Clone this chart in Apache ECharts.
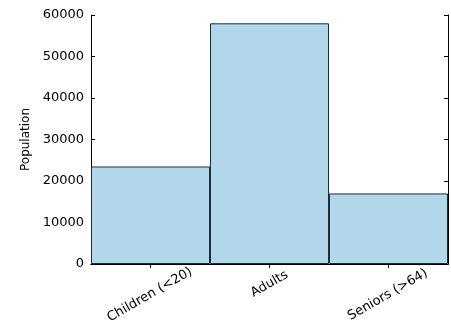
<!DOCTYPE html>
<html>
<head>
<meta charset="utf-8">
<script src="https://cdn.jsdelivr.net/npm/echarts@6/dist/echarts.min.js"></script>
<style>
  html, body { margin: 0; padding: 0; background: #fff; }
  #chart { width: 451px; height: 327px; }
</style>
</head>
<body>
<div id="chart"></div>
<script>
// Population by age group
const categories = ['Children (<20)', 'Adults', 'Seniors (>64)'];
const population = [23500, 58000, 17000];
const yTicks = [0, 10000, 20000, 30000, 40000, 50000, 60000];

const FONT = 'DejaVu Sans';
const frame = { show: true, lineStyle: { color: '#000', width: 1 } };
const inTicks = { show: true, inside: true, length: 4, lineStyle: { color: '#000' } };

// Longer labels get extra padding so each rotated label stays centred under its bar
const longLabels = ['Children (<20)', 'Seniors (>64)'];

const chart = echarts.init(document.getElementById('chart'), null, { renderer: 'canvas' });
chart.setOption({
  animation: false,
  grid: { left: 91, right: 3, top: 15, bottom: 63, outerBoundsMode: 'none', containLabel: false },
  xAxis: [
    {
      type: 'category',
      data: categories.map(c => ({
        value: c,
        textStyle: { align: 'center', verticalAlign: 'middle' }
      })),
      position: 'bottom',
      axisLine: frame,
      axisTick: Object.assign({ alignWithLabel: true }, inTicks),
      axisLabel: {
        rotate: 30, margin: 20,
        fontFamily: FONT, fontSize: 13, color: '#000', interval: 0,
        formatter: v => longLabels.includes(v) ? '{long|' + v + '}' : '{short|' + v + '}',
        rich: {
          long: { fontFamily: FONT, fontSize: 13, color: '#000', padding: [18, 12, 0, 0] },
          short: { fontFamily: FONT, fontSize: 13, color: '#000' }
        }
      },
      splitLine: { show: false }
    },
    {
      type: 'category',
      data: categories,
      position: 'top',
      axisLine: frame,
      axisTick: Object.assign({ alignWithLabel: true }, inTicks),
      axisLabel: { show: false },
      splitLine: { show: false }
    }
  ],
  yAxis: [
    {
      type: 'value',
      min: yTicks[0], max: yTicks[yTicks.length - 1], interval: 10000,
      name: 'Population', nameLocation: 'middle', nameGap: 53, nameRotate: 90,
      nameTextStyle: { fontFamily: FONT, fontSize: 12, color: '#000' },
      axisLine: frame,
      axisTick: inTicks,
      axisLabel: { fontFamily: FONT, fontSize: 13, color: '#000', margin: 7, formatter: v => String(v) },
      splitLine: { show: false }
    },
    {
      type: 'value',
      min: yTicks[0], max: yTicks[yTicks.length - 1], interval: 10000,
      position: 'right',
      axisLine: frame,
      axisTick: inTicks,
      axisLabel: { show: false },
      splitLine: { show: false }
    }
  ],
  series: [{
    type: 'bar',
    data: population,
    barWidth: '100%',
    barCategoryGap: 0,
    itemStyle: { color: '#b3d7ea', borderColor: '#1c2e3a', borderWidth: 1 },
    z: 1
  }]
});
</script>
</body>
</html>
